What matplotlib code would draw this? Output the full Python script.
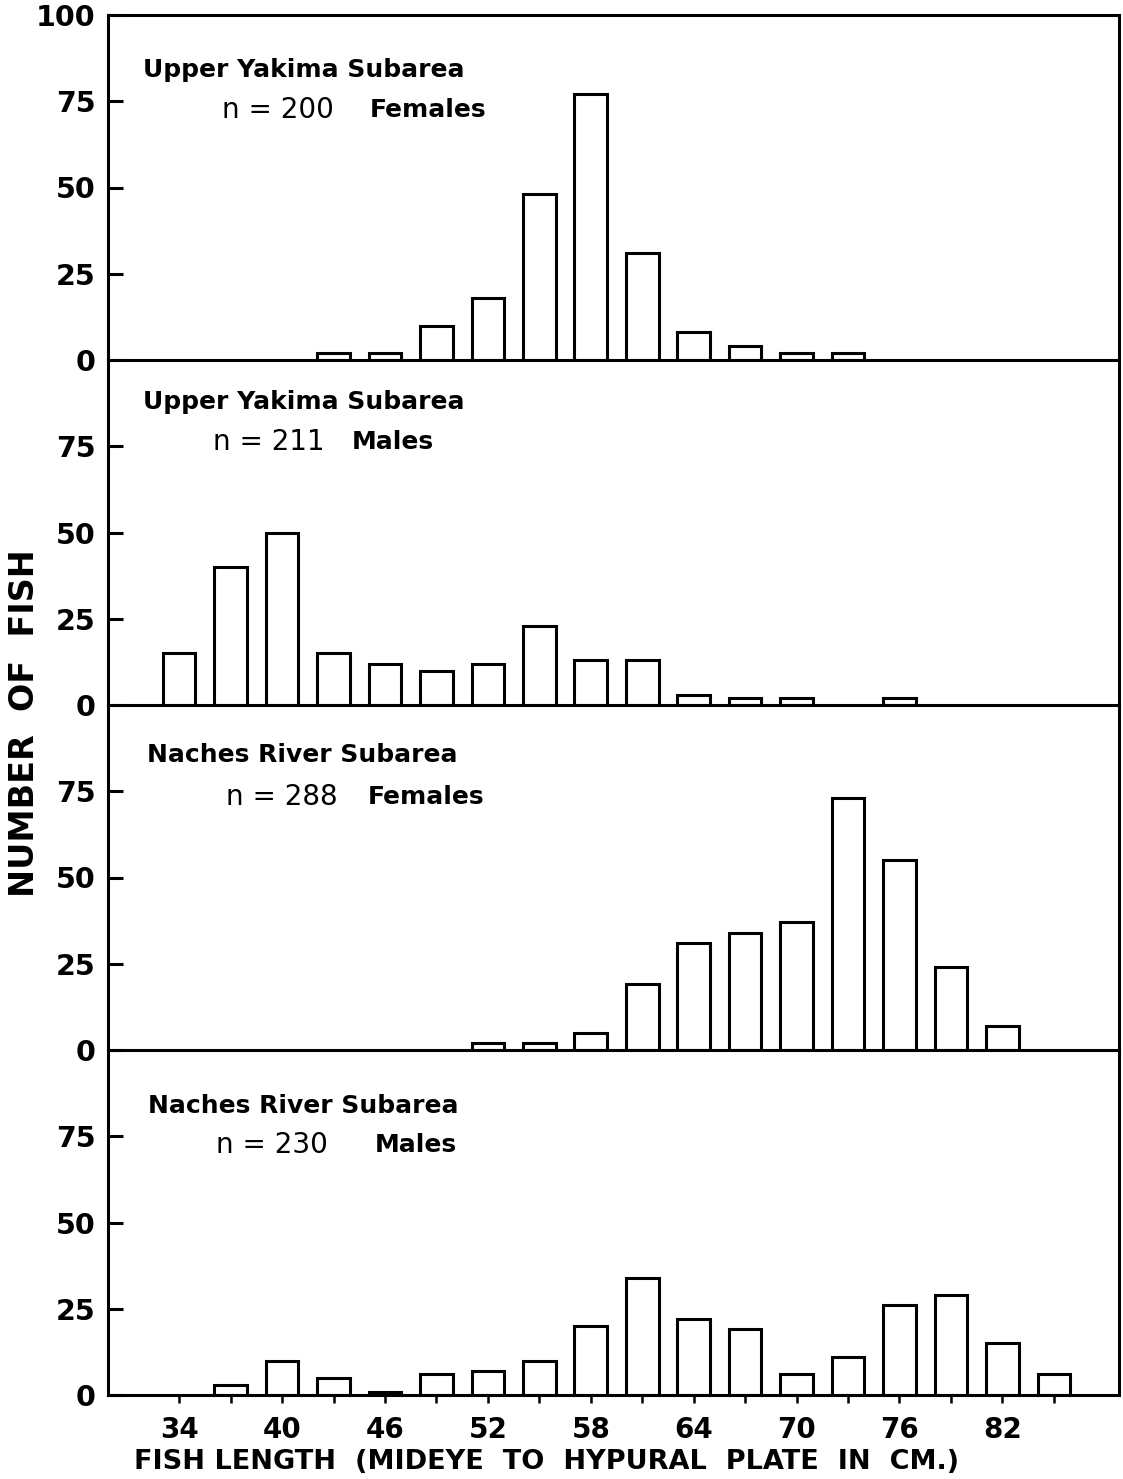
import matplotlib.pyplot as plt

# Upper Yakima subarea, females (n = 200)
yakima_female_lengths = [43, 46, 49, 52, 55, 58, 61, 64, 67, 70, 73]
yakima_female_counts = [2, 2, 10, 18, 48, 77, 31, 8, 4, 2, 2]

# Upper Yakima subarea, males (n = 211)
yakima_male_lengths = [34, 37, 40, 43, 46, 49, 52, 55, 58, 61, 64, 67, 70, 76]
yakima_male_counts = [15, 40, 50, 15, 12, 10, 12, 23, 13, 13, 3, 2, 2, 2]

# Naches River subarea, females (n = 288)
naches_female_lengths = [52, 55, 58, 61, 64, 67, 70, 73, 76, 79, 82]
naches_female_counts = [2, 2, 5, 19, 31, 34, 37, 73, 55, 24, 7]

# Naches River subarea, males (n = 230)
naches_male_lengths = [37, 40, 43, 46, 49, 52, 55, 58, 61, 64, 67, 70, 73, 76, 79, 82, 85]
naches_male_counts = [3, 10, 5, 1, 6, 7, 10, 20, 34, 22, 19, 6, 11, 26, 29, 15, 6]

panel_titles = ["Upper Yakima Subarea", "Upper Yakima Subarea",
                "Naches River Subarea", "Naches River Subarea"]
panel_n = ["n = 200", "n = 211", "n = 288", "n = 230"]
panel_sex = ["Females", "Males", "Females", "Males"]

x_ticks = list(range(34, 86, 3))
x_tick_labels = [str(v) if (v - 34) % 6 == 0 else "" for v in x_ticks]
y_ticks = [0, 25, 50, 75]

W, H = 1123, 1479
LW = 2.2
FONT = "DejaVu Sans"

panels = [
    (yakima_female_lengths, yakima_female_counts),
    (yakima_male_lengths, yakima_male_counts),
    (naches_female_lengths, naches_female_counts),
    (naches_male_lengths, naches_male_counts),
]

fig = plt.figure(figsize=(W / 100, H / 100), dpi=100)
plt.rcParams["font.family"] = FONT

left_px, right_px = 108, 1119
top_px, bottom_px = 15, 1395
panel_h = (bottom_px - top_px) / 4

# text anchors (title x, title y, n-line y, sex x, n x) in pixels
text_pos = [
    (143, 70, 110, 370, 222),
    (143, 402, 442, 352, 213),
    (147, 755, 797, 368, 226),
    (148, 1106, 1145, 375, 216),
]

for i, (lengths, counts) in enumerate(panels):
    y0 = top_px + i * panel_h
    ax = fig.add_axes([left_px / W, 1 - (y0 + panel_h) / H,
                       (right_px - left_px) / W, panel_h / H])
    ax.set_facecolor("none")
    ax.bar(lengths, counts, width=1.9, facecolor="white", edgecolor="black",
           linewidth=LW, zorder=2)
    ax.set_xlim(29.85, 88.8)
    ax.set_ylim(0, 100)
    for side in ["left", "right", "bottom", "top"]:
        ax.spines[side].set_linewidth(LW)
    if i > 0:
        ax.spines["top"].set_visible(False)
    ticks = y_ticks + [100] if i == 0 else y_ticks
    ax.set_yticks(ticks)
    ax.set_yticklabels([str(t) for t in ticks], fontsize=20.5, fontweight="bold")
    ax.tick_params(axis="y", direction="in", length=11, width=LW, pad=9)
    if i == 3:
        ax.set_xticks(x_ticks)
        ax.set_xticklabels(x_tick_labels, fontsize=20, fontweight="bold")
        ax.tick_params(axis="x", direction="out", length=6, width=1.8, pad=9)
    else:
        ax.set_xticks([])

    tx, ty, ny, sx, nx = text_pos[i]
    fig.text(tx / W, 1 - ty / H, panel_titles[i], fontsize=18, fontweight="bold",
             ha="left", va="center")
    fig.text(nx / W, 1 - ny / H, panel_n[i], fontsize=20,
             ha="left", va="center")
    fig.text(sx / W, 1 - ny / H, panel_sex[i], fontsize=18, fontweight="bold",
             ha="left", va="center")

fig.text(547 / W, 1 - 1462 / H, "FISH LENGTH  (MIDEYE  TO  HYPURAL  PLATE  IN  CM.)",
         fontsize=19.5, fontweight="bold", ha="center", va="center")
fig.text(25 / W, 1 - 723 / H, "NUMBER  OF  FISH", rotation=90, fontsize=24,
         fontweight="bold", ha="center", va="center")

fig.savefig("out.png", dpi=100)
